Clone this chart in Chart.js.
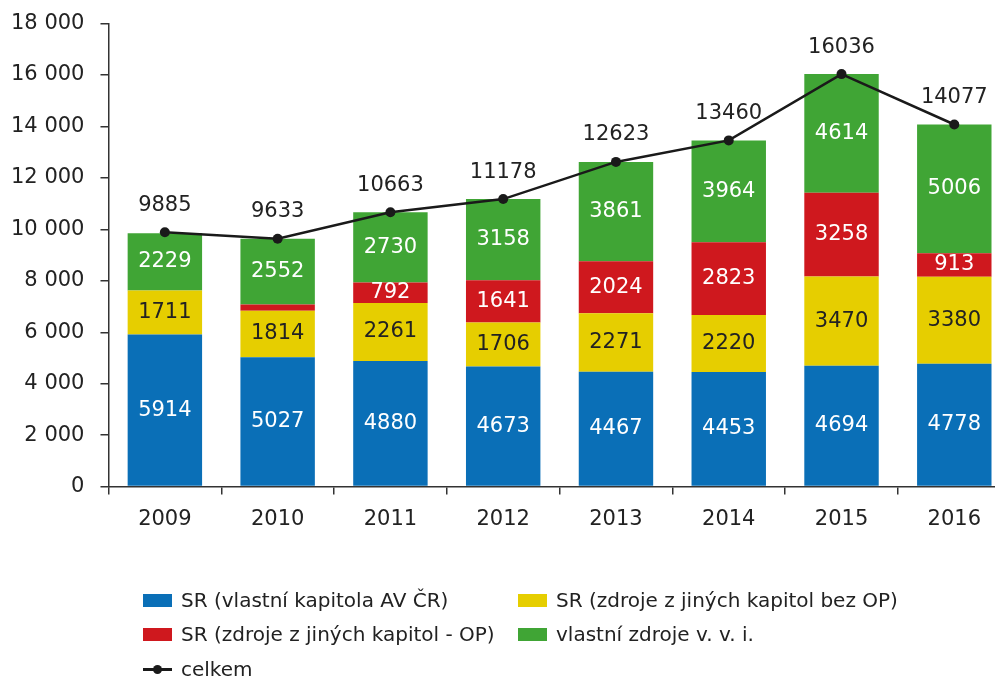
<!DOCTYPE html>
<html>
<head>
<meta charset="utf-8">
<script src="https://cdn.jsdelivr.net/npm/chart.js@4/dist/chart.umd.min.js"></script>
<style>
  html, body { margin: 0; padding: 0; background: #fff; overflow: hidden; }
  #wrap { position: relative; width: 995px; height: 677px; overflow: hidden; }
  #box { position: absolute; left: 0; top: 0; width: 1030px; height: 677px; }
  .legend { position: absolute; font-family: "DejaVu Sans", sans-serif; font-size: 20px; color: #222; white-space: nowrap; }
  .legend .sw { position: absolute; left: 0; top: 50%; width: 29px; height: 13px; margin-top: -6px; }
  .legend span.t { position: absolute; left: 38px; top: 50%; transform: translateY(-50%); }
  .legend .ln { position: absolute; left: 0; top: 50%; width: 29px; height: 2.5px; margin-top: -1px; background: #1a1a1a; }
  .legend .dot { position: absolute; left: 10px; top: 50%; width: 9px; height: 9px; margin-top: -4px; border-radius: 50%; background: #1a1a1a; }
</style>
</head>
<body>
<div id="wrap">
  <div id="box"><canvas id="chart" width="1030" height="677"></canvas></div>
  <div id="legend"></div>
</div>
<script>
// Years on the x axis
const years = ['2009', '2010', '2011', '2012', '2013', '2014', '2015', '2016'];

// Stacked parts (mil. Kč)
const srOwn     = [5914, 5027, 4880, 4673, 4467, 4453, 4694, 4778];
const srOther   = [1711, 1814, 2261, 1706, 2271, 2220, 3470, 3380];
const srOP      = [0, 240, 792, 1641, 2024, 2823, 3258, 913];
const ownFunds  = [2229, 2552, 2730, 3158, 3861, 3964, 4614, 5006];
const totals    = [9885, 9633, 10663, 11178, 12623, 13460, 16036, 14077];

const yTicks = [0, 2000, 4000, 6000, 8000, 10000, 12000, 14000, 16000, 18000];

const FONT = '"DejaVu Sans", sans-serif';
const TEXT = '#222';

const series = [
  { label: 'SR (vlastní kapitola AV ČR)', data: srOwn, color: '#0a6fb7', text: '#fff' },
  { label: 'SR (zdroje z jiných kapitol bez OP)', data: srOther, color: '#e6ce00', text: '#222' },
  { label: 'SR (zdroje z jiných kapitol - OP)', data: srOP, color: '#cf181e', text: '#fff' },
  { label: 'vlastní zdroje v. v. i.', data: ownFunds, color: '#40a535', text: '#fff' }
];

function fmtThousands(v) {
  return String(v).replace(/\B(?=(\d{3})+(?!\d))/g, ' ');
}

// numbers inside the bars and above the line points
const valueLabels = {
  id: 'valueLabels',
  afterDatasetsDraw(chart) {
    const ctx = chart.ctx;
    ctx.save();
    ctx.font = '21px ' + FONT;
    ctx.textAlign = 'center';
    ctx.textBaseline = 'middle';
    chart.data.datasets.forEach((ds, i) => {
      const meta = chart.getDatasetMeta(i);
      meta.data.forEach((el, j) => {
        const v = ds.data[j];
        if (ds.type === 'line') {
          ctx.fillStyle = TEXT;
          ctx.fillText(String(v), el.x, el.y - 27);
        } else if (v >= 500) {
          ctx.fillStyle = ds.textColor;
          ctx.fillText(String(v), el.x, (el.y + el.base) / 2);
        }
      });
    });
    ctx.restore();
  }
};

const datasets = series.map(s => ({
  type: 'bar',
  label: s.label,
  data: s.data,
  backgroundColor: s.color,
  textColor: s.text,
  stack: 'parts',
  order: 1,
  barPercentage: 0.66,
  categoryPercentage: 1
}));

datasets.push({
  type: 'line',
  label: 'celkem',
  data: totals,
  stack: 'total',
  order: 0,
  borderColor: '#1a1a1a',
  borderWidth: 2.5,
  pointRadius: 5,
  pointBackgroundColor: '#1a1a1a',
  pointBorderWidth: 0,
  tension: 0,
  fill: false
});

const chart = new Chart(document.getElementById('chart'), {
  type: 'bar',
  data: { labels: years, datasets: datasets },
  options: {
    responsive: false,
    animation: false,
    layout: { padding: { top: 17, left: 0, right: 2, bottom: 132 } },
    plugins: {
      legend: { display: false },
      tooltip: { enabled: false }
    },
    scales: {
      x: {
        stacked: true,
        offset: true,
        border: { color: '#333', width: 1.5 },
        grid: { offset: true, drawOnChartArea: false, drawTicks: true, tickLength: 8, color: '#333', lineWidth: 1.5 },
        ticks: { color: TEXT, font: { family: FONT, size: 21 }, padding: 12 }
      },
      y: {
        stacked: true,
        min: 0,
        max: 18000,
        afterBuildTicks(axis) { axis.ticks = yTicks.map(v => ({ value: v })); },
        border: { color: '#333', width: 1.5 },
        grid: { drawOnChartArea: false, drawTicks: true, tickLength: 8, color: '#333', lineWidth: 1.5 },
        ticks: { color: TEXT, font: { family: FONT, size: 21 }, padding: 16, callback: v => fmtThousands(v) }
      }
    }
  },
  plugins: [valueLabels]
});

// fit the plot box to the original: y axis at x=108, 0..18 000 from y=487 to y=24,
// eight categories of about 112.4 px each
const pad = chart.options.layout.padding;
let area = chart.chartArea;
pad.right += (area.right - area.left) - 8 * 112.4;
pad.bottom += (area.bottom - area.top) - (487 - 24);
chart.update();
area = chart.chartArea;
const box = document.getElementById('box');
box.style.left = (108 - area.left) + 'px';
box.style.top = (24 - area.top) + 'px';

// legend in two columns, as in the original figure
const legendItems = [
  { i: 0, x: 143, y: 600 }, { i: 1, x: 518, y: 600 },
  { i: 2, x: 143, y: 634 }, { i: 3, x: 518, y: 634 }
];
const legend = document.getElementById('legend');
legendItems.forEach(it => {
  const s = series[it.i];
  const d = document.createElement('div');
  d.className = 'legend';
  d.style.left = it.x + 'px';
  d.style.top = (it.y - 15) + 'px';
  d.style.height = '30px';
  d.innerHTML = '<div class="sw" style="background:' + s.color + '"></div><span class="t">' + s.label + '</span>';
  legend.appendChild(d);
});
const lineItem = document.createElement('div');
lineItem.className = 'legend';
lineItem.style.left = '143px';
lineItem.style.top = (669 - 15) + 'px';
lineItem.style.height = '30px';
lineItem.innerHTML = '<div class="ln"></div><div class="dot"></div><span class="t">celkem</span>';
legend.appendChild(lineItem);
</script>
</body>
</html>
